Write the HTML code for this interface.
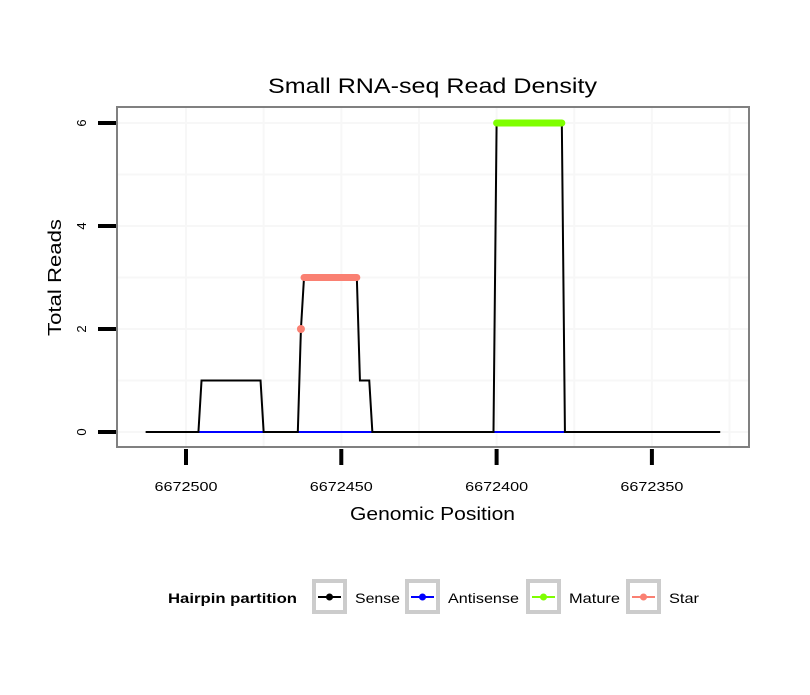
<!DOCTYPE html>
<html><head><meta charset="utf-8"><style>
body{margin:0;background:#fff;font-family:"Liberation Sans",sans-serif}
</style></head><body>
<svg id="chart" width="810" height="690" xmlns="http://www.w3.org/2000/svg">
<rect width="810" height="690" fill="#fff"/>
<text x="268" y="93" font-size="21" textLength="329" lengthAdjust="spacingAndGlyphs">Small RNA-seq Read Density</text>
<g id="grid"></g>
<g id="series"></g>
<rect x="117" y="107" width="632" height="340" fill="none" stroke="#808080" stroke-width="2"/>
<g id="axes"></g>
<text x="350" y="520" font-size="18" textLength="165" lengthAdjust="spacingAndGlyphs">Genomic Position</text>
<text transform="translate(61,336) rotate(-90)" font-size="18" textLength="117" lengthAdjust="spacingAndGlyphs">Total Reads</text>
<g id="legend">
<text x="168" y="603" font-size="14" font-weight="bold" textLength="129" lengthAdjust="spacingAndGlyphs">Hairpin partition</text>
</g>
</svg>
<script>
const sensePos=[6672513,6672496,6672495,6672476,6672475,6672464,6672463,6672462,6672445,6672444,6672441,6672440,6672401,6672400,6672379,6672378,6672328];
const senseVal=[0,0,1,1,0,0,2,3,3,1,1,0,0,6,6,0,0];
const antiSegStart=[6672496,6672464,6672401];
const antiSegEnd=[6672475,6672440,6672378];
const starPos=[6672462,6672445];
const starVal=[3,3];
const starDotPos=[6672463];
const starDotVal=[2];
const maturePos=[6672400,6672379];
const matureVal=[6,6];
const xTicks=[6672500,6672450,6672400,6672350];
const yTicks=[0,2,4,6];
const legendLabels=["Sense","Antisense","Mature","Star"];
const legendColors=["#000000","#0000ff","#7fff00","#fa8072"];

const NS="http://www.w3.org/2000/svg";
const X=p=>186+(6672500-p)*3.106;
const Y=v=>432-v*51.5;
function mk(tag,attrs,parent){const e=document.createElementNS(NS,tag);for(const k in attrs)e.setAttribute(k,attrs[k]);parent.appendChild(e);return e;}
const grid=document.getElementById('grid'),series=document.getElementById('series'),axes=document.getElementById('axes'),legend=document.getElementById('legend');
for(let v=-1;v<=7;v++){const y=Y(v);if(y<108||y>446)continue;const g=mk('line',{x1:118,x2:748,y1:y,y2:y,stroke:'#f7f7f7','stroke-width':2},grid);

}
for(let p=6672525;p>=6672325;p-=25){const x=X(p);if(x<118||x>748)continue;const g=mk('line',{x1:x,x2:x,y1:108,y2:446,stroke:'#f7f7f7','stroke-width':2},grid);

}
antiSegStart.forEach((s,i)=>{const l=mk('line',{x1:X(s),x2:X(antiSegEnd[i]),y1:Y(0),y2:Y(0),stroke:'#0000ff','stroke-width':2},series);

});
const sp=mk('polyline',{points:sensePos.map((p,i)=>X(p)+','+Y(senseVal[i])).join(' '),fill:'none',stroke:'#000','stroke-width':2},series);


const st=mk('polyline',{points:starPos.map((p,i)=>X(p)+','+Y(starVal[i])).join(' '),fill:'none',stroke:'#fa8072','stroke-width':7,'stroke-linecap':'round'},series);


starDotPos.forEach((p,i)=>{const c=mk('circle',{cx:X(p),cy:Y(starDotVal[i]),r:4,fill:'#fa8072'},series);

});
const mt=mk('polyline',{points:maturePos.map((p,i)=>X(p)+','+Y(matureVal[i])).join(' '),fill:'none',stroke:'#7fff00','stroke-width':7,'stroke-linecap':'round'},series);


xTicks.forEach(t=>{const x=X(t);const l=mk('line',{x1:x,x2:x,y1:449,y2:465,stroke:'#000','stroke-width':4},axes);


const tx=mk('text',{x:x-31.5,y:491,'font-size':13,textLength:63,lengthAdjust:'spacingAndGlyphs'},axes);tx.textContent=t;

});
yTicks.forEach(t=>{const y=Y(t);const l=mk('line',{x1:98,x2:116,y1:y,y2:y,stroke:'#000','stroke-width':4},axes);


const tx=mk('text',{transform:`translate(86,${y}) rotate(-90)`,'font-size':13,'text-anchor':'middle'},axes);tx.textContent=t;

});
const lx=[314,407,528,628];
const lw=[45,71,51,30];
legendLabels.forEach((lab,i)=>{const x=lx[i];
const b=mk('rect',{x:x,y:581,width:31,height:31,fill:'#fff',stroke:'#cccccc','stroke-width':4},legend);


mk('line',{x1:x+4,x2:x+27,y1:597,y2:597,stroke:legendColors[i],'stroke-width':2},legend);
mk('circle',{cx:x+15.5,cy:597,r:3.5,fill:legendColors[i]},legend);
const t=mk('text',{x:x+41,y:603,'font-size':14,textLength:lw[i],lengthAdjust:'spacingAndGlyphs'},legend);t.textContent=lab;

});
</script>
</body></html>
